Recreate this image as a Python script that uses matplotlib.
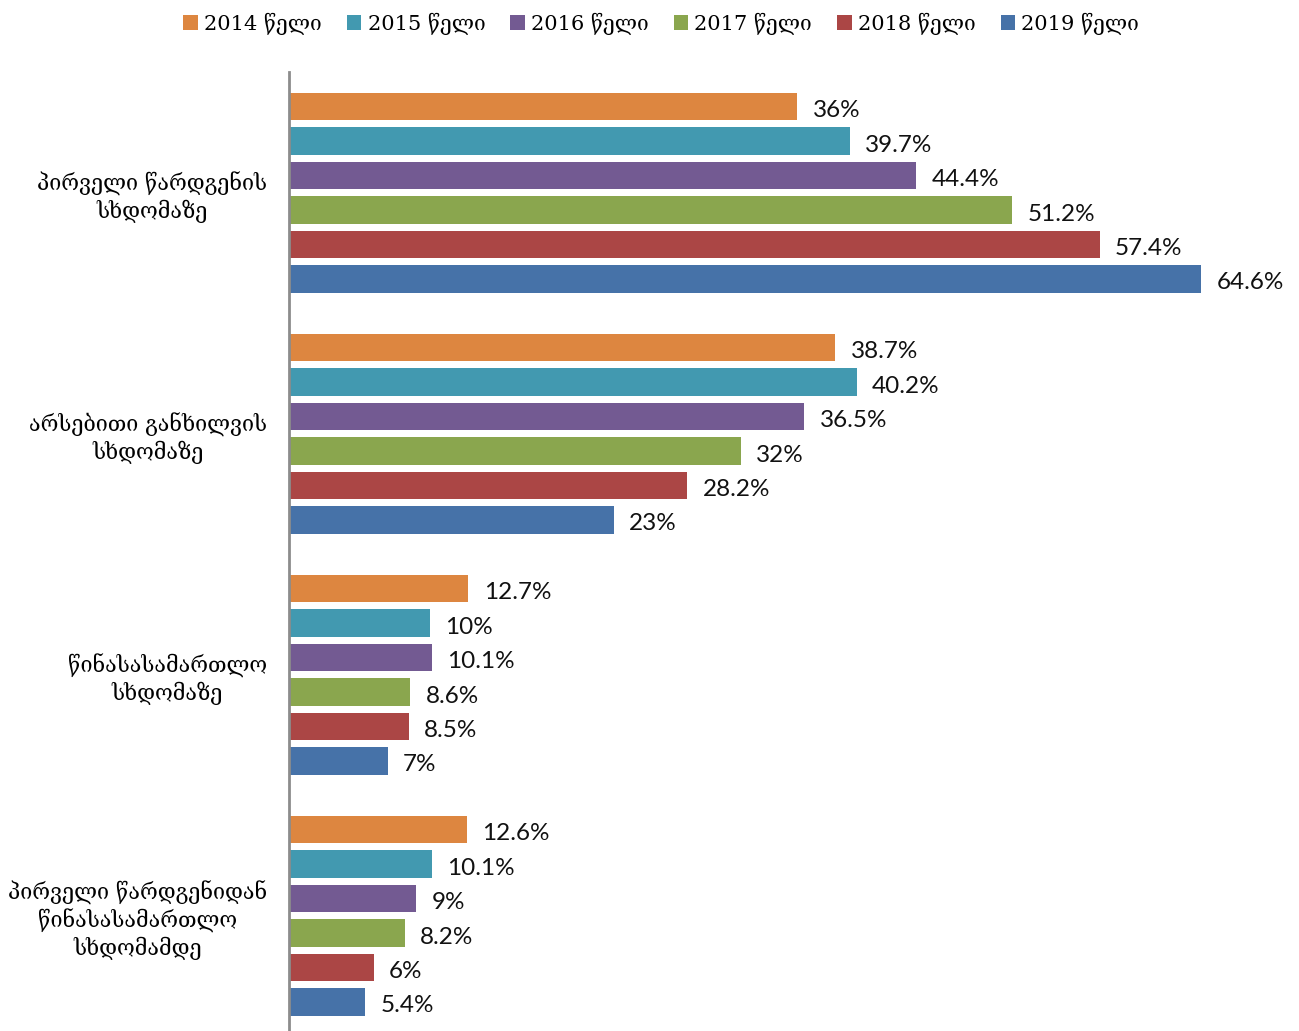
import matplotlib
matplotlib.use('Agg')
import matplotlib.pyplot as plt
import numpy as np

# კატეგორიები (ზემოდან ქვემოთ)
categories = [
    'პირველი წარდგენის\nსხდომაზე',
    'არსებითი განხილვის\nსხდომაზე',
    'წინასასამართლო\nსხდომაზე',
    'პირველი წარდგენიდან\nწინასასამართლო\nსხდომამდე',
]
years = ['2014 წელი', '2015 წელი', '2016 წელი', '2017 წელი', '2018 წელი', '2019 წელი']

v2014 = [36, 38.7, 12.7, 12.6]
v2015 = [39.7, 40.2, 10, 10.1]
v2016 = [44.4, 36.5, 10.1, 9]
v2017 = [51.2, 32, 8.6, 8.2]
v2018 = [57.4, 28.2, 8.5, 6]
v2019 = [64.6, 23, 7, 5.4]
series = [v2014, v2015, v2016, v2017, v2018, v2019]

colors = ['#DD8640', '#4299B0', '#735A92', '#8AA64E', '#AB4645', '#4672A8']

fig = plt.figure(figsize=(12.99, 10.31), dpi=100)
ax = fig.add_axes([0.2225, 0.0, 0.9834 - 0.2225, 0.930])

group = np.arange(len(categories)) * 7
for i, (vals, col, yr) in enumerate(zip(series, colors, years)):
    bars = ax.barh(group + i, vals, height=0.8, color=col, label=yr)
    txt = ax.bar_label(bars, labels=[f'{v:g}%' for v in vals], padding=11,
                       fontsize=17.5, family=['Lato', 'DejaVu Sans'],
                       color='#111111')
    # ლეიბლები ოდნავ ქვემოთ
    for t in txt:
        t.xyann = (11, -3)

ax.set_xlim(0, 70)
ax.set_ylim(26.85, -1)
ax.set_xticks([])
ax.set_yticks(group + 2.5)
ax.set_yticklabels(categories, family=['DejaVu Serif'], fontsize=15.5,
                   multialignment='center')
ax.tick_params(axis='y', length=0, pad=16)
for s in ['top', 'right', 'bottom']:
    ax.spines[s].set_visible(False)
ax.spines['left'].set_color('#8c8c8c')
ax.spines['left'].set_linewidth(2)

fig.legend(loc='upper center', bbox_to_anchor=(0.509, 1.006), ncol=6,
           frameon=False, prop={'family': ['DejaVu Serif'], 'size': 15},
           handlelength=0.7, handleheight=0.7, handletextpad=0.3,
           columnspacing=1.2)

fig.savefig('out.png', dpi=100)
